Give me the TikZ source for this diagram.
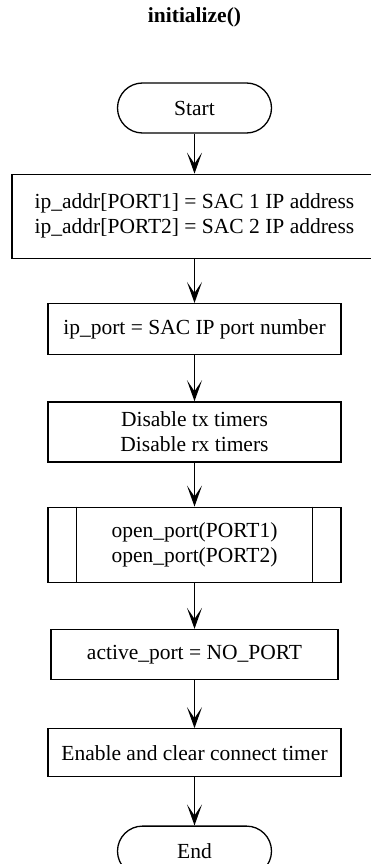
\documentclass[tikz,border=0pt]{standalone}
\usepackage{fontspec}
\setmainfont{Liberation Serif}
\usepackage{tikz}
\usetikzlibrary{arrows.meta,positioning}

\begin{document}
\begin{tikzpicture}[
      font=\fontsize{21.5}{25}\selectfont,
      node distance=44pt,
      terminal/.style={draw, line width=1.3pt, rectangle, rounded corners=25pt,
                       minimum width=154pt, minimum height=50pt, inner sep=0pt},
      process/.style={draw, line width=1.3pt, rectangle, minimum width=293pt,
                      minimum height=50pt, align=center, inner sep=0pt},
      arrow/.style={-{Stealth[length=21pt, width=15pt, inset=11pt]}, line width=1.3pt},
      title/.style={font=\fontsize{21.5}{25}\selectfont\bfseries},
    ]
    \useasboundingbox (0,0) rectangle (371pt,-864pt);
    \clip (0,0) rectangle (371pt,-864pt);

    % ---- title ----
    \node[title] (head) at (194.5pt,-17pt) {initialize()};

    % ---- flow ----
    \node[terminal] (start) at (194.5pt,-108pt) {Start};
    \node[process, below=40pt of start, minimum width=365pt, minimum height=84pt]
      (addr) {ip\_addr[PORT1] = SAC 1 IP address\\ip\_addr[PORT2] = SAC 2 IP address};
    \node[process, below=44pt of addr, minimum height=51pt] (port) {ip\_port = SAC IP port number};
    \node[process, below=46pt of port, minimum height=60pt] (timers) {Disable tx timers\\Disable rx timers};
    \node[process, below=44pt of timers, minimum height=75pt] (open) {open\_port(PORT1)\\open\_port(PORT2)};
    \node[process, below=46pt of open, minimum width=287pt] (active) {active\_port = NO\_PORT};
    \node[process, below=48pt of active, minimum height=48pt] (connect) {Enable and clear connect timer};
    \node[terminal, below=48pt of connect] (stop) {End};

    % subroutine side bars
    \draw[line width=1.3pt] ([xshift=29pt]open.north west) -- ([xshift=29pt]open.south west);
    \draw[line width=1.3pt] ([xshift=-29pt]open.north east) -- ([xshift=-29pt]open.south east);

    % arrows
    \draw[arrow] (start) -- (addr);
    \draw[arrow] (addr) -- (port);
    \draw[arrow] (port) -- (timers);
    \draw[arrow] (timers) -- (open);
    \draw[arrow] (open) -- (active);
    \draw[arrow] (active) -- (connect);
    \draw[arrow] (connect) -- (stop);
  \end{tikzpicture}
\end{document}
